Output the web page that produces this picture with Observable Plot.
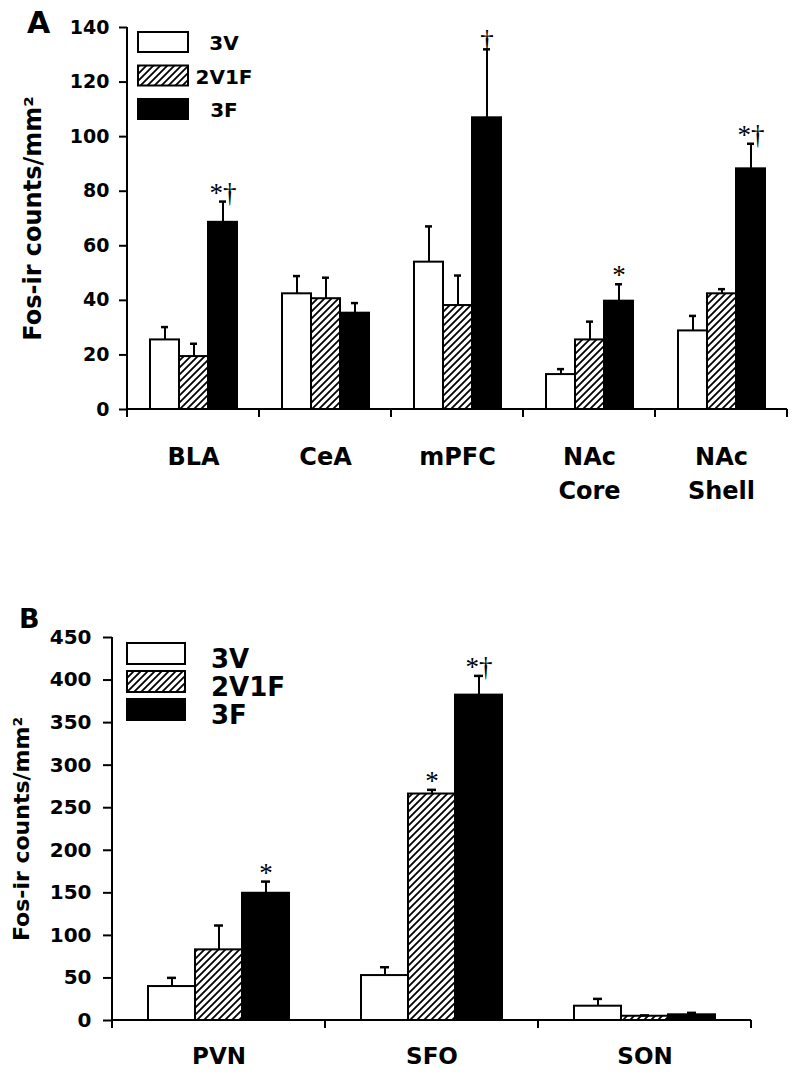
<!DOCTYPE html>
<html>
<head>
<meta charset="utf-8">
<script src="https://cdn.jsdelivr.net/npm/d3@7"></script>
<script src="https://cdn.jsdelivr.net/npm/@observablehq/plot@0.6"></script>
<style>
  html, body { margin: 0; padding: 0; background: #fff; }
  #chart { position: relative; width: 800px; height: 1074px; background: #fff; }
  #chart > .layer { position: absolute; left: 0; }
  #panelA [aria-label="y-axis label"] { font-size: 24px; }
  #panelB [aria-label="y-axis label"] { font-size: 22px; }
</style>
</head>
<body>
<div id="chart">
  <div class="layer" id="panelA" style="top:0"></div>
  <div class="layer" id="panelB" style="top:530px"></div>
</div>
<script>
// ---------- data ----------
const groups = ["3V", "2V1F", "3F"];
const yLabel = "Fos-ir counts/mm²";

// Panel A
const regionsA = ["BLA", "CeA", "mPFC", "NAc\nCore", "NAc\nShell"];
const meanA_3V   = [25.5, 42.4, 54.0, 12.8, 28.8];
const semA_3V    = [4.7, 6.5, 13.1, 2.0, 5.5];
const meanA_2V1F = [19.4, 40.6, 38.1, 25.5, 42.4];
const semA_2V1F  = [4.7, 7.7, 11.0, 6.7, 1.7];
const meanA_3F   = [68.6, 35.3, 106.9, 39.7, 88.2];
const semA_3F    = [7.6, 3.7, 25.1, 6.2, 9.2];
const annA_3V    = ["", "", "", "", ""];
const annA_2V1F  = ["", "", "", "", ""];
const annA_3F    = ["*†", "", "†", "*", "*†"];
const yDomainA = [0, 140];
const yTicksA = [0, 20, 40, 60, 80, 100, 120, 140];

// Panel B
const regionsB = ["PVN", "SFO", "SON"];
const meanB_3V   = [39.9, 52.8, 16.8];
const semB_3V    = [10.2, 9.8, 8.6];
const meanB_2V1F = [83.0, 266.1, 5.0];
const semB_2V1F  = [28.6, 4.9, 1.0];
const meanB_3F   = [149.5, 382.3, 6.7];
const semB_3F    = [13.7, 22.6, 2.3];
const annB_3V    = ["", "", ""];
const annB_2V1F  = ["", "*", ""];
const annB_3F    = ["*", "*†", ""];
const yDomainB = [0, 450];
const yTicksB = [0, 50, 100, 150, 200, 250, 300, 350, 400, 450];

// ---------- helpers ----------
function buildRows(regions, means, sems, anns) {
  const out = [];
  regions.forEach((r, i) => groups.forEach((g, j) => {
    out.push({region: r, group: g, value: means[j][i], err: sems[j][i], annot: anns[j][i]});
  }));
  return out;
}

function addHatch(svgSel, id, size, sw) {
  let defs = svgSel.select("defs");
  if (defs.empty()) defs = svgSel.insert("defs", ":first-child");
  const p = defs.append("pattern").attr("id", id)
    .attr("patternUnits", "userSpaceOnUse").attr("width", size).attr("height", size);
  p.append("rect").attr("width", size).attr("height", size).attr("fill", "white");
  const s = size, q = size / 4;
  p.append("path")
    .attr("d", `M0,${s} L${s},0 M${-q},${q} L${q},${-q} M${s - q},${s + q} L${s + q},${s - q}`)
    .attr("stroke", "black").attr("stroke-width", sw).attr("fill", "none");
}

function axisFrame(tickLen) {
  let first = true;
  return (index, scales) => {
    const [x0, x1] = scales.x.range();
    const yr = scales.y.range();
    const yTop = Math.min(...yr);
    const y0 = scales.y(0);
    const g = d3.create("svg:g").attr("stroke", "black").attr("stroke-width", 2).attr("fill", "none");
    const segs = [[x0, y0, x1, y0], [x0, y0, x0, y0 + tickLen], [x1, y0, x1, y0 + tickLen]];
    if (first) { segs.push([x0, yTop, x0, y0 + tickLen]); first = false; }
    for (const [a, b, c, d] of segs) g.append("line").attr("x1", a).attr("y1", b).attr("x2", c).attr("y2", d);
    return g.node();
  };
}

function panel(o) {
  const top = d => d.value + d.err;
  const svg = Plot.plot({
    width: 800, height: o.height,
    marginTop: o.mt, marginBottom: o.mb, marginLeft: o.ml, marginRight: o.mr,
    style: {fontFamily: "DejaVu Sans", fontWeight: "bold", color: "black", background: "white", overflow: "visible"},
    fx: {domain: o.regions, padding: 0, axis: null, label: null},
    x: {domain: groups, paddingInner: 0, paddingOuter: o.paddingOuter, axis: null},
    y: {domain: o.yDomain, axis: null},
    color: {domain: groups, range: ["white", `url(#${o.hatchId})`, "black"]},
    marks: [
      Plot.barY(o.data, {fx: "region", x: "group", y: "value", fill: "group", stroke: "black", strokeWidth: 2}),
      Plot.ruleX(o.data, {fx: "region", x: "group", y1: "value", y2: top, stroke: "black", strokeWidth: 2}),
      Plot.tickY(o.data, {fx: "region", x: "group", y: top, stroke: "black", strokeWidth: 2.5, insetLeft: o.capInset, insetRight: o.capInset}),
      Plot.text(o.data.filter(d => d.annot), {fx: "region", x: "group", y: top, text: "annot", lineAnchor: "bottom", dy: o.annDy,
        fontFamily: "Liberation Serif", fontWeight: "normal", fontSize: o.annFont, fill: "black"}),
      axisFrame(8),
      Plot.axisY({ticks: o.yTicks, tickSize: o.tickSize, tickPadding: o.tickPadding, strokeWidth: 2, fontSize: o.tickFont,
        label: yLabel, labelAnchor: "center", labelOffset: o.labelOffset, labelArrow: "none"}),
      Plot.axisFx({anchor: "bottom", tickSize: 0, tickPadding: o.xPad, fontSize: o.xFont, lineHeight: 1.4, label: null})
    ]
  });
  addHatch(d3.select(svg), o.hatchId, o.hatchSize, o.hatchWidth);
  return svg;
}

// ---------- panels ----------
const dataA = buildRows(regionsA, [meanA_3V, meanA_2V1F, meanA_3F], [semA_3V, semA_2V1F, semA_3F], [annA_3V, annA_2V1F, annA_3F]);
const dataB = buildRows(regionsB, [meanB_3V, meanB_2V1F, meanB_3F], [semB_3V, semB_2V1F, semB_3F], [annB_3V, annB_2V1F, annB_3F]);

document.getElementById("panelA").appendChild(panel({
  data: dataA, regions: regionsA, yDomain: yDomainA, yTicks: yTicksA,
  height: 530, mt: 27, mb: 121, ml: 126, mr: 12, paddingOuter: 0.707,
  capInset: 11, annFont: 27, annDy: 0, tickFont: 19, tickSize: 8, tickPadding: 10,
  labelOffset: 104, xPad: 32, xFont: 24, hatchId: "hatchA", hatchSize: 7, hatchWidth: 1.8
}));

document.getElementById("panelB").appendChild(panel({
  data: dataB, regions: regionsB, yDomain: yDomainB, yTicks: yTicksB,
  height: 544, mt: 107, mb: 54, ml: 111, mr: 48, paddingOuter: 0.74,
  capInset: 19, annFont: 27, annDy: 0, tickFont: 20, tickSize: 9, tickPadding: 12,
  labelOffset: 99, xPad: 21, xFont: 23, hatchId: "hatchB", hatchSize: 7, hatchWidth: 1.8
}));

// ---------- overlay: panel letters and legends ----------
const overlay = d3.select("#chart").append("svg").attr("class", "layer")
  .attr("width", 800).attr("height", 1074)
  .style("top", "0px").style("pointer-events", "none")
  .attr("font-family", "DejaVu Sans").attr("font-weight", "bold");
addHatch(overlay, "hatchL", 7, 1.8);
const legendFill = {"3V": "white", "2V1F": "url(#hatchL)", "3F": "black"};

overlay.append("text").attr("x", 27).attr("y", 33).attr("font-size", 30).text("A");
overlay.append("text").attr("x", 19).attr("y", 628).attr("font-size", 27).text("B");

function legend(x, y, w, h, step, textX, anchor, fontSize, textShift) {
  const g = overlay.append("g").attr("transform", `translate(${x},${y})`);
  groups.forEach((grp, i) => {
    g.append("rect").attr("x", 0).attr("y", i * step).attr("width", w).attr("height", h)
      .attr("fill", legendFill[grp]).attr("stroke", "black").attr("stroke-width", 2);
    g.append("text").attr("x", textX).attr("y", i * step + h / 2 + textShift)
      .attr("text-anchor", anchor).attr("font-size", fontSize).text(grp);
  });
}
legend(138, 32, 50, 20, 33.5, 86, "middle", 20, 8);
legend(127, 643, 58, 21, 28, 84, "start", 26, 14);
</script>
</body>
</html>
